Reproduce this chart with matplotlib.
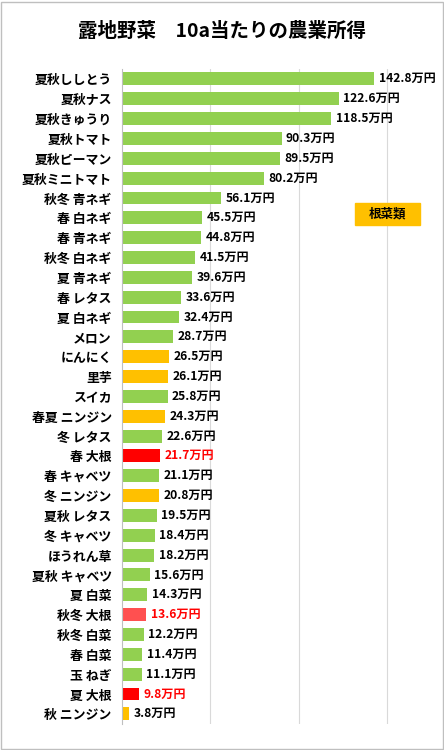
import matplotlib
matplotlib.use("Agg")
import matplotlib.pyplot as plt
from matplotlib.patches import Rectangle

plt.rcParams['font.family'] = ['Noto Sans CJK JP', 'DejaVu Sans']

crops = ["夏秋ししとう", "夏秋ナス", "夏秋きゅうり", "夏秋トマト", "夏秋ピーマン", "夏秋ミニトマト",
         "秋冬 青ネギ", "春 白ネギ", "春 青ネギ", "秋冬 白ネギ", "夏 青ネギ", "春 レタス",
         "夏 白ネギ", "メロン", "にんにく", "里芋", "スイカ", "春夏 ニンジン", "冬 レタス",
         "春 大根", "春 キャベツ", "冬 ニンジン", "夏秋 レタス", "冬 キャベツ", "ほうれん草",
         "夏秋 キャベツ", "夏 白菜", "秋冬 大根", "秋冬 白菜", "春 白菜", "玉 ねぎ",
         "夏 大根", "秋 ニンジン"]
income = [142.8, 122.6, 118.5, 90.3, 89.5, 80.2, 56.1, 45.5, 44.8, 41.5, 39.6, 33.6,
          32.4, 28.7, 26.5, 26.1, 25.8, 24.3, 22.6, 21.7, 21.1, 20.8, 19.5, 18.4, 18.2,
          15.6, 14.3, 13.6, 12.2, 11.4, 11.1, 9.8, 3.8]
# g: other, r: root vegetable, d: daikon, l: lighter daikon
group = ["g"] * 14 + ["r", "r", "g", "r", "g", "d", "g", "r", "g", "g", "g", "g", "g",
                      "l", "g", "g", "g", "d", "r"]

bar_col = {"g": "#92D050", "r": "#FFC000", "d": "#FF0000", "l": "#FF5050"}
txt_col = {"g": "black", "r": "black", "d": "#FF0000", "l": "#FF0000"}

fig = plt.figure(figsize=(4.44, 7.5), dpi=100)
ax = fig.add_axes([0.275, 0.035, 0.716, 0.873])

y = list(range(len(crops)))
ax.barh(y, income, height=0.65, color=[bar_col[g] for g in group])
for yi, v, g in zip(y, income, group):
    ax.text(v + 2.5, yi, f"{v}万円", va="center", ha="left", fontsize=8.7,
            fontweight="bold", color=txt_col[g])

ax.set_xlim(0, 180)
ax.set_ylim(len(crops) - 0.5, -0.5)
ax.set_yticks(y)
ax.set_yticklabels(crops, fontsize=9.3, fontweight="bold")
ax.set_xticks([50, 100, 150])
ax.xaxis.grid(True, color="#d9d9d9", lw=0.8)
ax.set_axisbelow(True)
ax.tick_params(axis="x", bottom=False, labelbottom=False)
ax.tick_params(axis="y", left=False, pad=4)
for s in ["top", "right", "bottom"]:
    ax.spines[s].set_visible(False)
ax.spines["left"].set_color("#bfbfbf")

fig.text(0.5, 0.958, "露地野菜　10a当たりの農業所得", ha="center", va="center",
         fontsize=14, fontweight="bold")

# legend box for root vegetables
fig.patches.append(Rectangle((355 / 444, 1 - 225 / 750), 65 / 444, 22 / 750,
                             transform=fig.transFigure, color="#FFC000"))
fig.text(387 / 444, 1 - 214 / 750, "根菜類", ha="center", va="center",
         fontsize=9, fontweight="bold")

fig.patches.append(Rectangle((0.002, 0.002), 0.996, 0.996, transform=fig.transFigure,
                             fill=False, edgecolor="#bfbfbf", lw=1))

fig.savefig("out.png", dpi=100)
